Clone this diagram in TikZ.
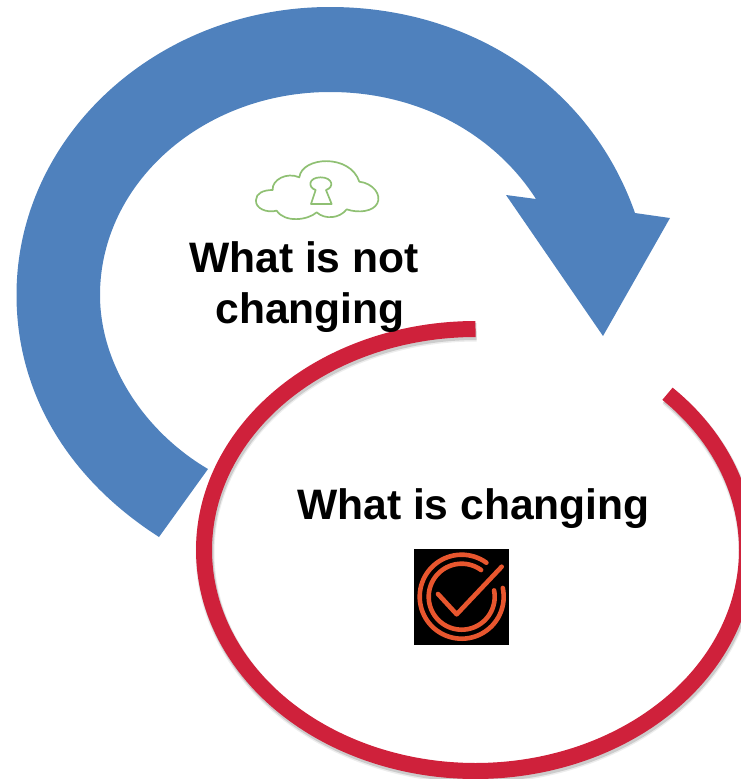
\documentclass[tikz,border=0pt]{standalone}
\usepackage{fontspec}
\setmainfont{Liberation Sans}
\definecolor{arrowblue}{HTML}{4F81BD}
\definecolor{ringred}{HTML}{CF213B}
\definecolor{cloudgreen}{HTML}{8FC073}
\definecolor{iconorange}{HTML}{E8562E}
\tikzset{
  bigtext/.style={font=\fontsize{42.6}{48}\selectfont\bfseries, text=black, inner sep=0pt, anchor=base},
  ringline/.style={line width=16pt, line cap=butt},
  iconline/.style={iconorange, line width=4.6pt, line cap=round, line join=round},
  cloudline/.style={cloudgreen, line width=1.7pt, line join=round}
}
\newcommand{\ringpath}{plot[smooth, domain=-90:-405, samples=120] ({475.5+271.5*cos(\x)},{550+221*sin(\x)})}
\begin{document}
\begin{tikzpicture}[x=1pt,y=-1pt]
\useasboundingbox (0,0) rectangle (741,779);
% blue arrow
\fill[arrowblue] (159,537) .. controls (70,480) and (16.5,395) .. (16.5,295)
  .. controls (16.5,136) and (157,7) .. (330,7)
  .. controls (470,7) and (590,85) .. (635,213)
  -- (670,218) -- (603,336) -- (506,195) -- (536,199)
  .. controls (495,135) and (420,92) .. (330,92)
  .. controls (203,92) and (100,183) .. (100,295)
  .. controls (100,365) and (145,432) .. (208,469) -- cycle;
% ring with shadow
\begin{scope}
\clip (0,0) rectangle (741,779);
\draw[ringline, black, opacity=0.07, line width=19pt, shift={(1,3)}] \ringpath;
\draw[ringline, black, opacity=0.14, line width=17pt, shift={(1,2.5)}] \ringpath;
\draw[ringline, ringred] \ringpath;
\end{scope}
% cloud
\begin{scope}[shift={(230,140)}, x=0.3333pt, y=-0.3333pt]
\draw[cloudline] (78,180) .. controls (78,160) and (100,150) .. (128,150)
  .. controls (125,120) and (170,95) .. (208,112)
  .. controls (215,50) and (360,40) .. (388,125)
  .. controls (430,130) and (455,165) .. (442,190)
  .. controls (430,215) and (385,220) .. (350,208)
  .. controls (330,235) and (285,240) .. (260,217)
  .. controls (235,240) and (165,250) .. (140,212)
  .. controls (110,220) and (75,205) .. (78,180) -- cycle;
\draw[cloudline] (257,150) .. controls (232,142) and (236,112) .. (272,112)
  .. controls (308,112) and (314,142) .. (288,150)
  -- (305,192) -- (243,192) -- cycle;
\end{scope}
% text
\node[bigtext] (notchanging1) at (304,272) {What is not};
\node[bigtext] (notchanging2) at (310,323) {changing};
\node[bigtext] (changing) at (473.5,519.5) {What is changing};
% icon
\fill[black] (414,549) rectangle (509,645);
\draw[iconline] plot[smooth, domain=54:372, samples=70] ({461.7+42*cos(\x)},{596.7-42*sin(\x)});
\draw[iconline] plot[smooth, domain=54:371, samples=70] ({461.7+33*cos(\x)},{596.7-33*sin(\x)});
\draw[iconline] (438,594) -- (456.7,614.3) -- (501.7,566.7);
\end{tikzpicture}
\end{document}
